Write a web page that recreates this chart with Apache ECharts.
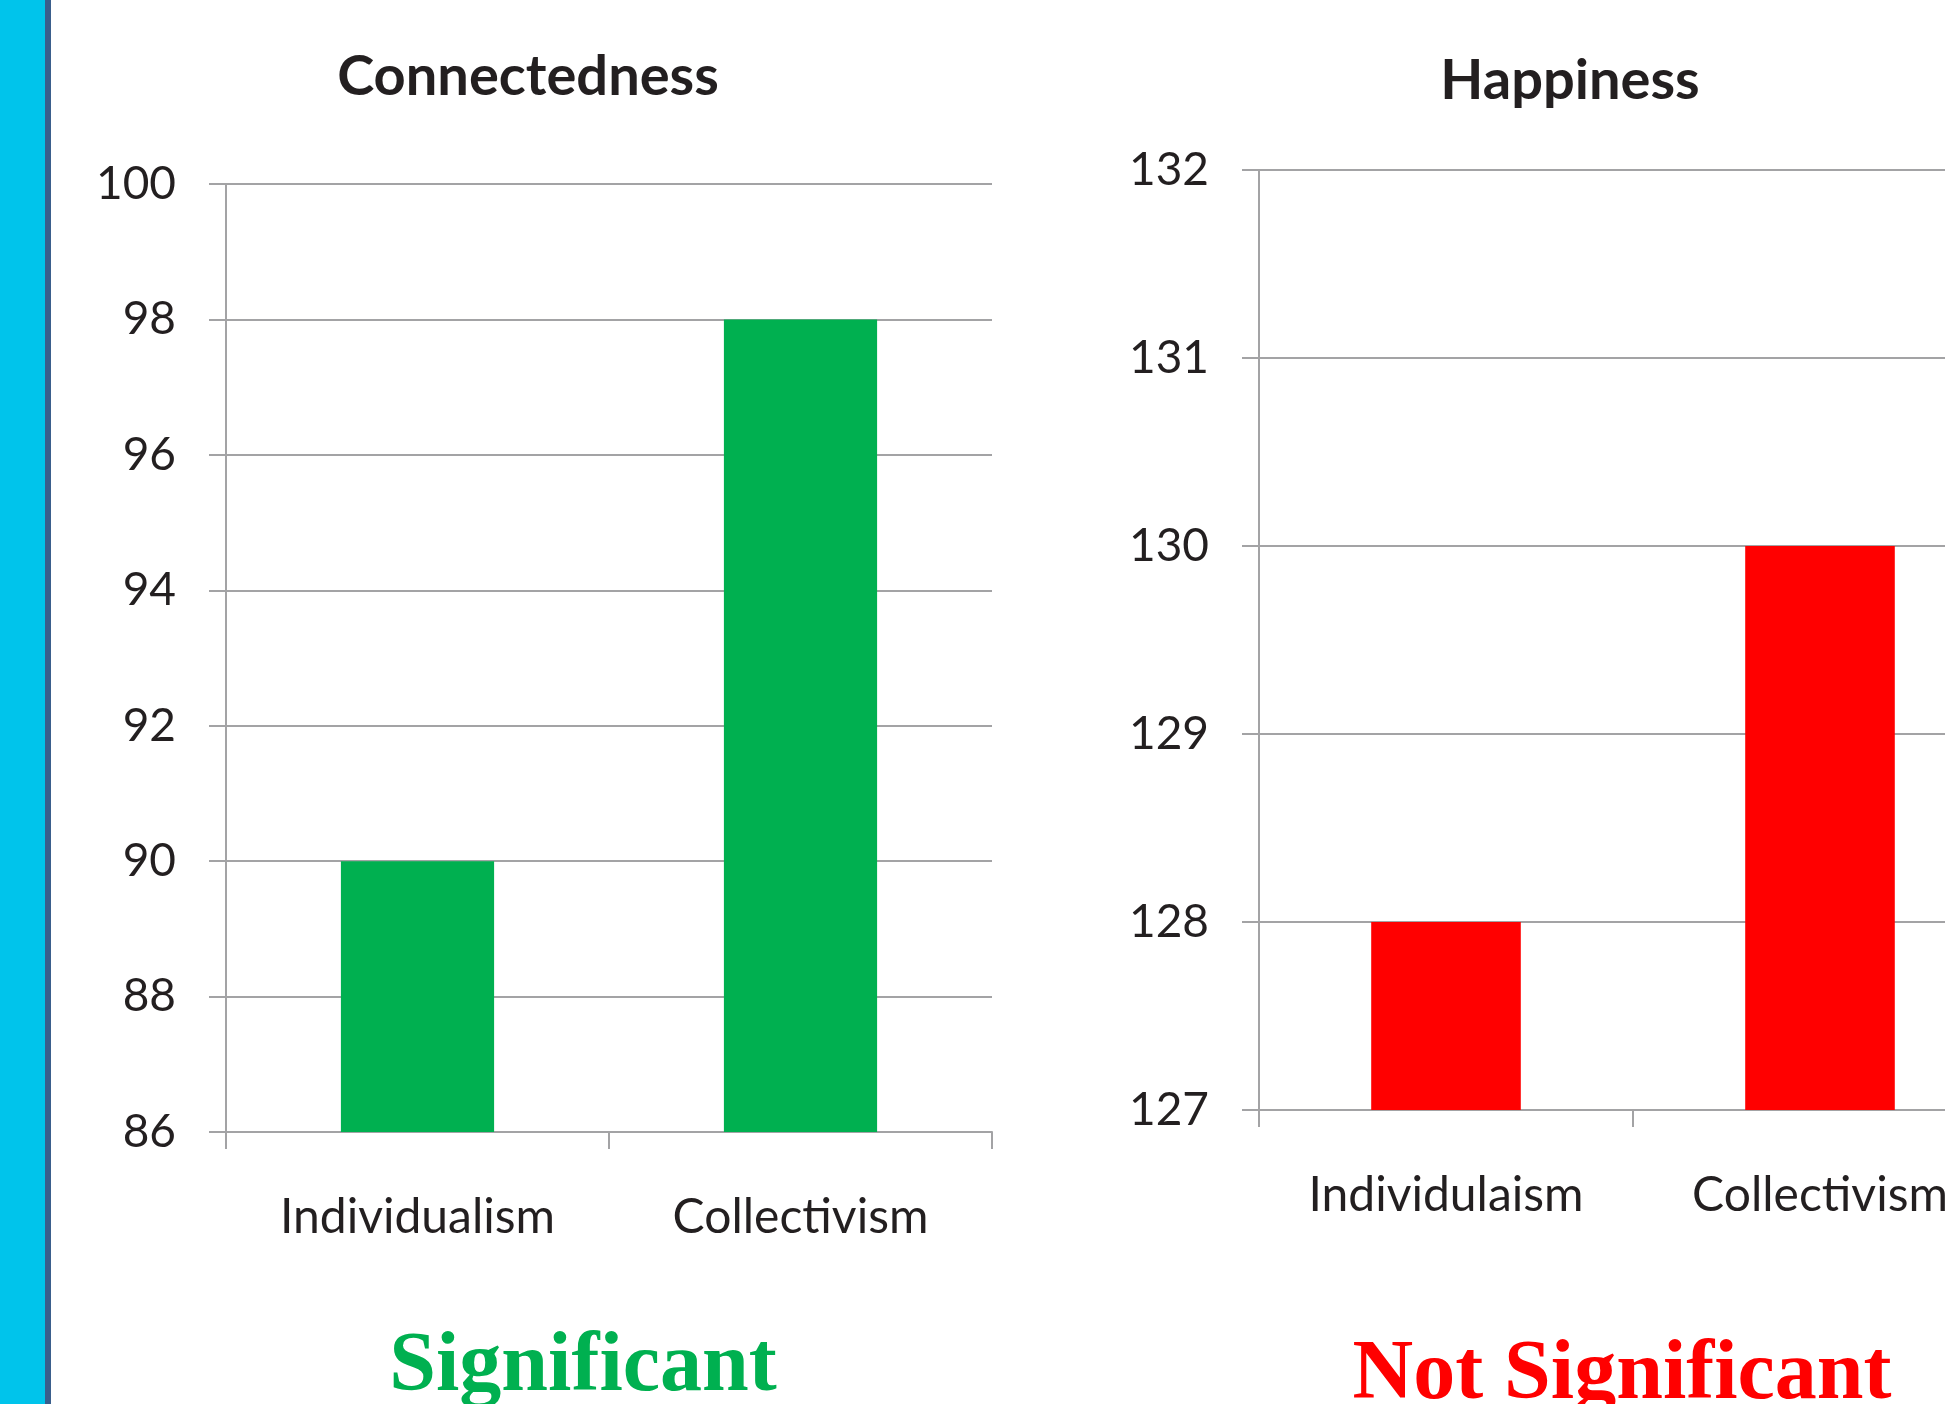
<!DOCTYPE html>
<html lang="en">
<head>
    <meta charset="UTF-8">
    <title>Connectedness and Happiness</title>
    <script src="https://cdn.jsdelivr.net/npm/echarts@6/dist/echarts.min.js"></script>
    <style>
        html, body { margin: 0; padding: 0; background: #fff; }
        #chart { width: 1945px; height: 1404px; }
    </style>
</head>
<body>
    <div id="chart"></div>

    <script>
        // Data
        var connCategories = ['Individualism', 'Collectivism'];
        var connValues = [90, 98];
        var happyCategories = ['Individulaism', 'Collectivism'];
        var happyValues = [128, 130];

        var chart = echarts.init(document.getElementById('chart'));

        var gray = '#a3a3a5';
        var textColor = '#231f20';
        var labelFont = 'Lato';

        function xAxisFor(gridIndex, cats) {
            return {
                type: 'category',
                gridIndex: gridIndex,
                data: cats,
                axisLine: { show: true, lineStyle: { color: gray, width: 2 } },
                axisTick: { show: true, length: 17, alignWithLabel: false, lineStyle: { color: gray, width: 2 } },
                axisLabel: { color: textColor, fontFamily: labelFont, fontSize: 48, margin: 62, hideOverlap: false }
            };
        }

        function yAxisFor(gridIndex, min, max, interval) {
            return {
                type: 'value',
                gridIndex: gridIndex,
                min: min,
                max: max,
                interval: interval,
                axisLine: { show: true, lineStyle: { color: gray, width: 2 } },
                axisTick: { show: true, length: 17, lineStyle: { color: gray, width: 2 } },
                splitLine: { show: true, lineStyle: { color: gray, width: 2 } },
                axisLabel: { color: textColor, fontFamily: labelFont, fontSize: 46, margin: 50 }
            };
        }

        var option = {
            animation: false,
            backgroundColor: '#ffffff',
            grid: [
                { left: 226, top: 184, width: 766, height: 948, outerBoundsMode: 'none' },
                // right chart runs off the page edge in the original
                { left: 1259, top: 170, width: 748, height: 940, outerBoundsMode: 'none' }
            ],
            xAxis: [xAxisFor(0, connCategories), xAxisFor(1, happyCategories)],
            yAxis: [yAxisFor(0, 86, 100, 2), yAxisFor(1, 127, 132, 1)],
            series: [
                {
                    name: 'Connectedness',
                    type: 'bar',
                    xAxisIndex: 0,
                    yAxisIndex: 0,
                    barWidth: '40%',
                    itemStyle: { color: '#00b050' },
                    data: connValues
                },
                {
                    name: 'Happiness',
                    type: 'bar',
                    xAxisIndex: 1,
                    yAxisIndex: 1,
                    barWidth: '40%',
                    itemStyle: { color: '#ff0000' },
                    data: happyValues
                }
            ],
            graphic: [
                // slide edge stripe
                { type: 'rect', shape: { x: 0, y: 0, width: 45, height: 1404 }, style: { fill: '#00c4eb' } },
                { type: 'rect', shape: { x: 45, y: 0, width: 6, height: 1404 }, style: { fill: '#3a5e8c' } },
                {
                    type: 'text', x: 528, y: 77,
                    style: { text: 'Connectedness', font: 'bold 56px Lato', fill: textColor,
                             textAlign: 'center', textVerticalAlign: 'middle', align: 'center', verticalAlign: 'middle' }
                },
                {
                    type: 'text', x: 1570, y: 81,
                    style: { text: 'Happiness', font: 'bold 56px Lato', fill: textColor,
                             textAlign: 'center', textVerticalAlign: 'middle', align: 'center', verticalAlign: 'middle' }
                },
                {
                    type: 'text', x: 583, y: 1368,
                    style: { text: 'Significant', font: 'bold 84px "Liberation Serif"', fill: '#00b050',
                             textAlign: 'center', textVerticalAlign: 'middle', align: 'center', verticalAlign: 'middle' }
                },
                {
                    type: 'text', x: 1622, y: 1376,
                    style: { text: 'Not Significant', font: 'bold 84px "Liberation Serif"', fill: '#ff0000',
                             textAlign: 'center', textVerticalAlign: 'middle', align: 'center', verticalAlign: 'middle' }
                }
            ]
        };

        chart.setOption(option);
    </script>
</body>
</html>
